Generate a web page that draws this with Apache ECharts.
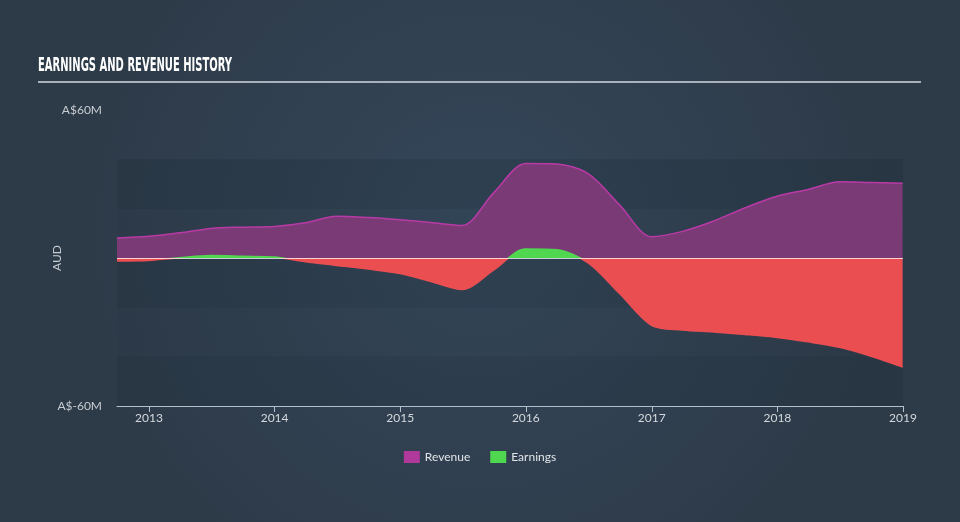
<!DOCTYPE html>
<html>
<head>
<meta charset="utf-8">
<script src="https://cdn.jsdelivr.net/npm/echarts@6/dist/echarts.min.js"></script>
<style>
html,body{margin:0;padding:0;background:#2f3d4c;}
#chart{width:960px;height:522px;}
</style>
</head>
<body>
<div id="chart"></div>
<script>
var dates = ['2012-09-30','2012-12-31','2013-03-31','2013-06-30','2013-09-30','2013-12-31',
  '2014-03-31','2014-06-30','2014-09-30','2014-12-31','2015-03-31','2015-06-30','2015-09-30',
  '2015-12-31','2016-03-31','2016-06-30','2016-09-30','2016-12-31','2017-03-31','2017-06-30',
  '2017-09-30','2017-12-31','2018-03-31','2018-06-30','2018-09-30','2018-12-31'];
var revenue = [8.1,8.8,10.2,12.0,12.5,12.8,14.3,16.9,16.4,15.5,14.4,13.2,26.5,
  38.3,38.1,34.2,21.5,8.6,10.8,15.0,20.4,25.0,27.8,30.9,30.6,30.3];
var earnings = [-1.2,-1.0,0.1,1.0,0.7,0.4,-1.5,-3.0,-4.5,-6.3,-9.5,-12.8,-4.8,
  3.6,3.3,-2.0,-14.5,-27.3,-29.2,-30.0,-31.0,-32.2,-34.0,-36.2,-39.8,-44.2];
var yTickLabels = {'60':'A$60M','-60':'A$-60M'};
var titleText = 'EARNINGS AND REVENUE HISTORY';

function pairs(vals){ return dates.map(function(d,i){ return [d, vals[i]]; }); }

var chart = echarts.init(document.getElementById('chart'), null, {renderer:'canvas'});
var labelFont = 'Lato, "Open Sans", sans-serif';
var option = {
  backgroundColor: {
    type:'radial', x:0.5, y:0.45, r:0.8,
    colorStops:[{offset:0,color:'#35475a'},{offset:1,color:'#2d3a48'}]
  },
  animation:false,
  graphic:[
    {type:'text', left:38, top:56, scaleX:0.555, style:{text:titleText, fill:'#ffffff',
      font:'bold 20px "DejaVu Sans Condensed", "Liberation Sans Narrow", sans-serif'}},
    {type:'rect', shape:{x:38,y:81,width:883,height:2}, style:{fill:'#aab1ba'}}
  ],
  legend:{
    bottom:54, left:'center', itemWidth:16, itemHeight:12, itemGap:20, icon:'rect',
    textStyle:{color:'#e2e5e8', fontSize:12, fontFamily:labelFont},
    data:[{name:'Revenue', itemStyle:{color:'#b0399c'}},{name:'Earnings', itemStyle:{color:'#4fd84f'}}]
  },
  grid:{left:117, right:57, top:110, bottom:116, containLabel:false},
  xAxis:{
    type:'time', min:'2012-09-30', max:'2019-01-01',
    minInterval:365*24*3600*1000, maxInterval:366*24*3600*1000,
    axisLine:{onZero:false, lineStyle:{color:'#b4bfcc', width:1}},
    axisTick:{show:true, length:6, lineStyle:{color:'#b4bfcc'}},
    axisLabel:{color:'#d4d8dc', fontSize:12, fontFamily:labelFont, formatter:'{yyyy}', margin:6,
      showMinLabel:false, showMaxLabel:true},
    splitLine:{show:false}
  },
  yAxis:{
    type:'value', min:-60, max:60, interval:20,
    name:'AUD', nameLocation:'middle', nameGap:54, nameRotate:90, nameMoveOverlap:false,
    nameTextStyle:{color:'#c8cdd2', fontSize:12, fontFamily:labelFont},
    axisLine:{show:false}, axisTick:{show:false},
    axisLabel:{color:'#c8cdd2', fontSize:12, fontFamily:labelFont, margin:15,
      formatter:function(v){ return yTickLabels[String(v)] || ''; }},
    splitLine:{show:false},
    splitArea:{show:true, areaStyle:{color:[
      'rgba(10,20,30,0.13)','rgba(10,20,30,0.04)','rgba(10,20,30,0.13)',
      'rgba(10,20,30,0.04)','rgba(10,20,30,0.13)','rgba(0,0,0,0)']}}
  },
  visualMap:{
    type:'piecewise', show:false, seriesIndex:1, dimension:1,
    pieces:[{gte:-60, lt:0, color:'#ea4e51'},{gte:0, lte:60, color:'#4fd84f'}]
  },
  series:[
    {name:'Revenue', type:'line', data:pairs(revenue), smooth:0.3,
      showSymbol:false, symbol:'none', z:2,
      lineStyle:{color:'#b93aa6', width:1.5},
      itemStyle:{color:'#b0399c'},
      areaStyle:{color:'#7a3a76', opacity:1}},
    {name:'Earnings', type:'line', data:pairs(earnings), smooth:0.3,
      showSymbol:false, symbol:'none', z:3,
      lineStyle:{width:1.5},
      areaStyle:{opacity:1},
      markLine:{silent:true, symbol:'none', label:{show:false},
        lineStyle:{color:'rgba(255,255,255,0.75)', width:1, type:'solid'},
        data:[{yAxis:0}]}}
  ]
};
chart.setOption(option);
</script>
</body>
</html>
